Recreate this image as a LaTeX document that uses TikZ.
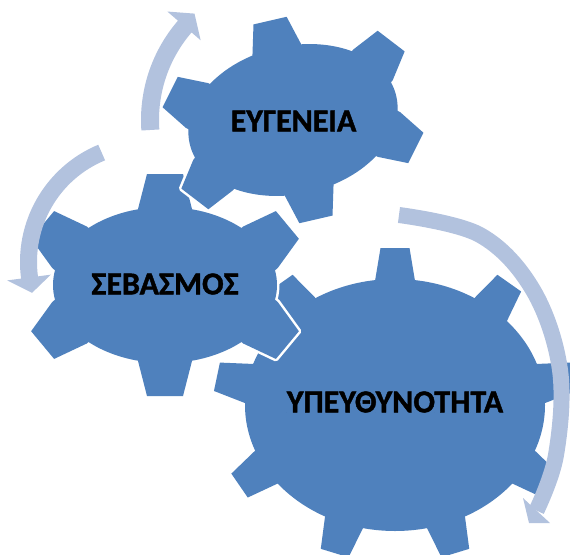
\documentclass[tikz,border=0pt]{standalone}
\usepackage{fontspec}
\setmainfont{Carlito}
\newfontfamily\gearfont{Carlito}[BoldFeatures={FakeBold=1.3}]
\definecolor{gearblue}{RGB}{79,129,189}
\definecolor{arrowblue}{RGB}{178,194,222}
\tikzset{
  gtext/.style={font=\gearfont\fontsize{32}{38}\selectfont\bfseries, text=black, inner sep=0pt},
  band/.style={draw=arrowblue, line cap=butt},
  headfill/.style={fill=arrowblue},
  gearpass/.style={fill=gearblue}
}
% #1 cx, #2 cy, #3 body a, #4 body b, #5 tooth height, #6 teeth, #7 rotation, #8 tip half width, #9 base half width
\newcommand\gearpass[9]{%
  \begin{scope}[shift={(#1,#2)}, rotate=#7]
    \path[gearpass] (0,0) ellipse [x radius=#3pt, y radius=#4pt];
    \foreach \k in {1,...,#6}{
      \pgfmathsetmacro\th{90+360*\k/#6}
      \pgfmathsetmacro\px{#3*cos(\th)}
      \pgfmathsetmacro\py{#4*sin(\th)}
      \pgfmathsetmacro\al{atan2(sin(\th)/#4, cos(\th)/#3)}
      \path[gearpass, shift={(\px,\py)}, rotate=\al]
        (-12,-#9) -- (-2,-#9) -- (#5,-#8) -- (#5,#8) -- (-2,#9) -- (-12,#9) -- cycle;
    }
  \end{scope}}
\newcommand\gear[9]{%
  \tikzset{gearpass/.style={draw=white, fill=white, line width=5pt, line join=round}}%
  \gearpass{#1}{#2}{#3}{#4}{#5}{#6}{#7}{#8}{#9}%
  \tikzset{gearpass/.style={fill=gearblue}}%
  \gearpass{#1}{#2}{#3}{#4}{#5}{#6}{#7}{#8}{#9}}
\begin{document}
\begin{tikzpicture}[x=1pt,y=1pt]
\useasboundingbox (0,0) rectangle (570,-554);
% gears
\gear{395}{-405}{150}{126}{31}{9}{0}{14.5}{20}
\gear{165}{-285}{112}{78}{33}{6}{0}{18}{27}
\gear{293}{-120}{106}{74}{28}{6}{13}{17}{25}
\node[gtext] (t1) at (395,-402) {ΥΠΕΥΘΥΝΟΤΗΤΑ};
\node[gtext] (t2) at (165,-284) {ΣΕΒΑΣΜΟΣ};
\node[gtext] (t3) at (293.5,-121) {ΕΥΓΕΝΕΙΑ};
% top arrow
\coordinate (ctop) at (293,-120);
\draw[band, line width=18] ([shift={(184:143pt)}]ctop) arc[start angle=184, end angle=138.7, radius=143pt];
\path[headfill] ([shift={(139.2:166pt)}]ctop) -- ([shift={(132.8:145pt)}]ctop) -- ([shift={(139.2:122pt)}]ctop) -- cycle;
% left arrow
\coordinate (cleft) at (147,-262);
\draw[band, line width=17] ([shift={(112.5:118.5pt)}]cleft) arc[start angle=112.5, end angle=188, radius=118.5pt];
\path[headfill] ([shift={(187.5:141pt)}]cleft) -- ([shift={(195:119pt)}]cleft) -- ([shift={(187.5:97pt)}]cleft) -- cycle;
% big arrow
\coordinate (bs) at (399,-215);
\coordinate (be) at (536.5,-510.5);
\draw[band, line width=16] plot[smooth, tension=0.6] coordinates {(bs) (480,-235) (533,-290) (560,-370) (556,-455) (be)};
\path[headfill] (523,-498) -- (529,-523) -- (550,-523) -- cycle;
\end{tikzpicture}
\end{document}
